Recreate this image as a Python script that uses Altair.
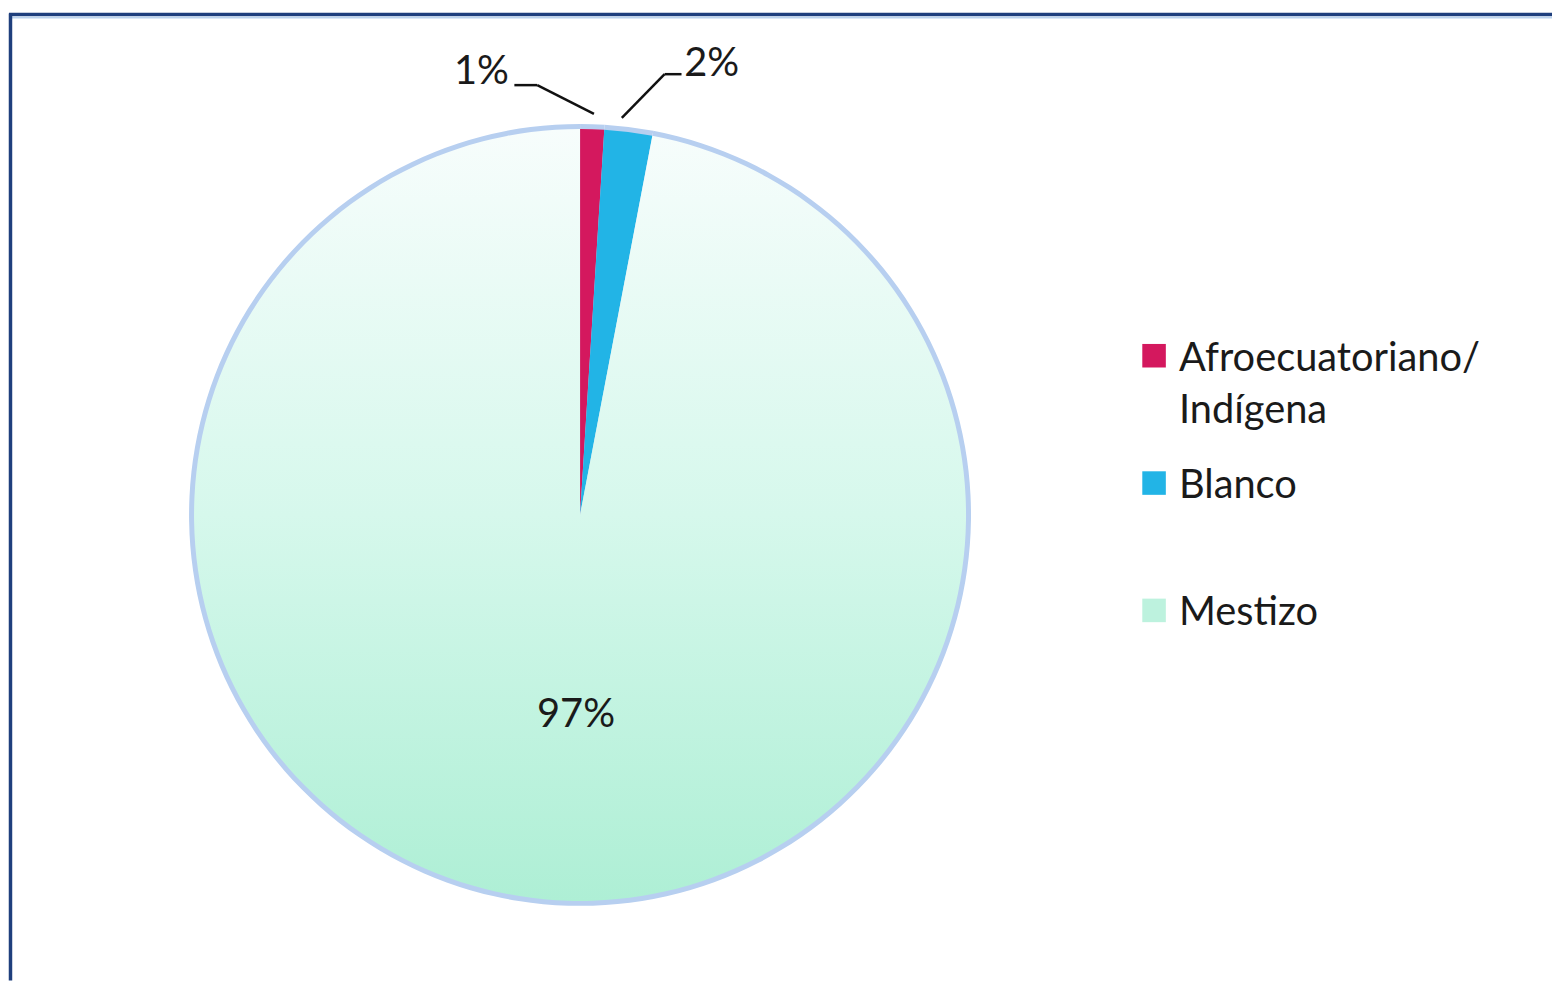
import altair as alt
import pandas as pd

categories = ["Afroecuatoriano/Indígena", "Blanco", "Mestizo"]
values = [1, 2, 97]
labels = ["1%", "2%", "97%"]
colors = ["#d4185e", "#22b4e6", "#bdf2de"]

df = pd.DataFrame({"cat": categories, "value": values, "label": labels, "idx": [0, 1, 2]})

CX, CY = 575, 507
FONT = "Lato"

grad = alt.LinearGradient(
    gradient="linear", x1=0, y1=0, x2=0, y2=1,
    stops=[alt.GradientStop(color="#f7fdfc", offset=0),
           alt.GradientStop(color="#d6f8ec", offset=0.5),
           alt.GradientStop(color="#aeefd5", offset=1)],
)

base = alt.Chart(df)

halo = base.mark_arc(radius=393, stroke=None).encode(
    theta=alt.Theta("value:Q", stack=True),
    order=alt.Order("idx:Q"),
    color=alt.value("#b7cff0"),
    x=alt.value(CX), y=alt.value(CY),
)

pie = base.mark_arc(radius=388, strokeWidth=0).encode(
    theta=alt.Theta("value:Q", stack=True),
    order=alt.Order("idx:Q"),
    color=alt.condition(
        "datum.cat == 'Mestizo'",
        alt.value(grad),
        alt.Color("cat:N", sort=categories,
                  scale=alt.Scale(domain=categories, range=colors),
                  legend=alt.Legend(
                      title=None, orient="none", legendX=1132, legendY=327,
                      symbolType="square", symbolSize=560, symbolStrokeWidth=0,
                      labelFont=FONT, labelFontSize=40, labelColor="#1a1a1a",
                      labelLimit=600, gridAlign="all", rowPadding=32, labelOffset=5,
                      labelBaseline="top",
                      labelExpr="datum.label == 'Afroecuatoriano/Indígena' ? ['Afroecuatoriano/', 'Indígena'] : datum.label",
                  )),
    ),
    x=alt.value(CX), y=alt.value(CY),
)

tb = (base.transform_window(cum="sum(value)", sort=[alt.SortField("idx")], frame=[None, 0])
      .transform_calculate(mid="datum.cum - datum.value / 2"))


def lab(cat, radius, dx, dy):
    return tb.transform_filter(alt.datum.cat == cat).mark_text(
        radius=radius, dx=dx, dy=dy, font=FONT, fontSize=40, color="#1a1a1a",
        align="center", baseline="middle",
    ).encode(
        theta=alt.Theta("mid:Q"),
        text="label:N",
        x=alt.value(CX), y=alt.value(CY),
    )


lab1 = lab(categories[0], 445, -113, 0)
lab2 = lab(categories[1], 450, 76, -7)
lab3 = lab(categories[2], 202, 15, 0)

one = alt.Chart(pd.DataFrame({"a": [0]}))


def seg(x, y, x2, y2, color="#111111", w=2.5):
    return one.mark_rule(color=color, strokeWidth=w).encode(
        x=alt.value(x), y=alt.value(y), x2=alt.value(x2), y2=alt.value(y2))


leaders = [
    seg(509, 75, 532, 75), seg(532, 75, 589, 104),
    seg(660, 64, 677, 64), seg(660, 64, 617, 108),
]
frame = [
    seg(1, 4, 1552, 4, "#1f3f7d", 3.5),
    seg(1, 7, 1552, 7, "#bcd3ee", 2),
    seg(2.5, 3, 2.5, 975, "#1f3f7d", 3.5),
]

chart = alt.layer(halo, pie, lab1, lab2, lab3, *leaders, *frame).properties(
    width=1552, height=975, padding=0, autosize="none",
).configure(
    background="white",
    style={"guide-label": {"lineHeight": 53, "dy": -17}},
).configure_view(stroke=None)

chart.save("out.html", embed_options={"renderer": "svg", "actions": False})
